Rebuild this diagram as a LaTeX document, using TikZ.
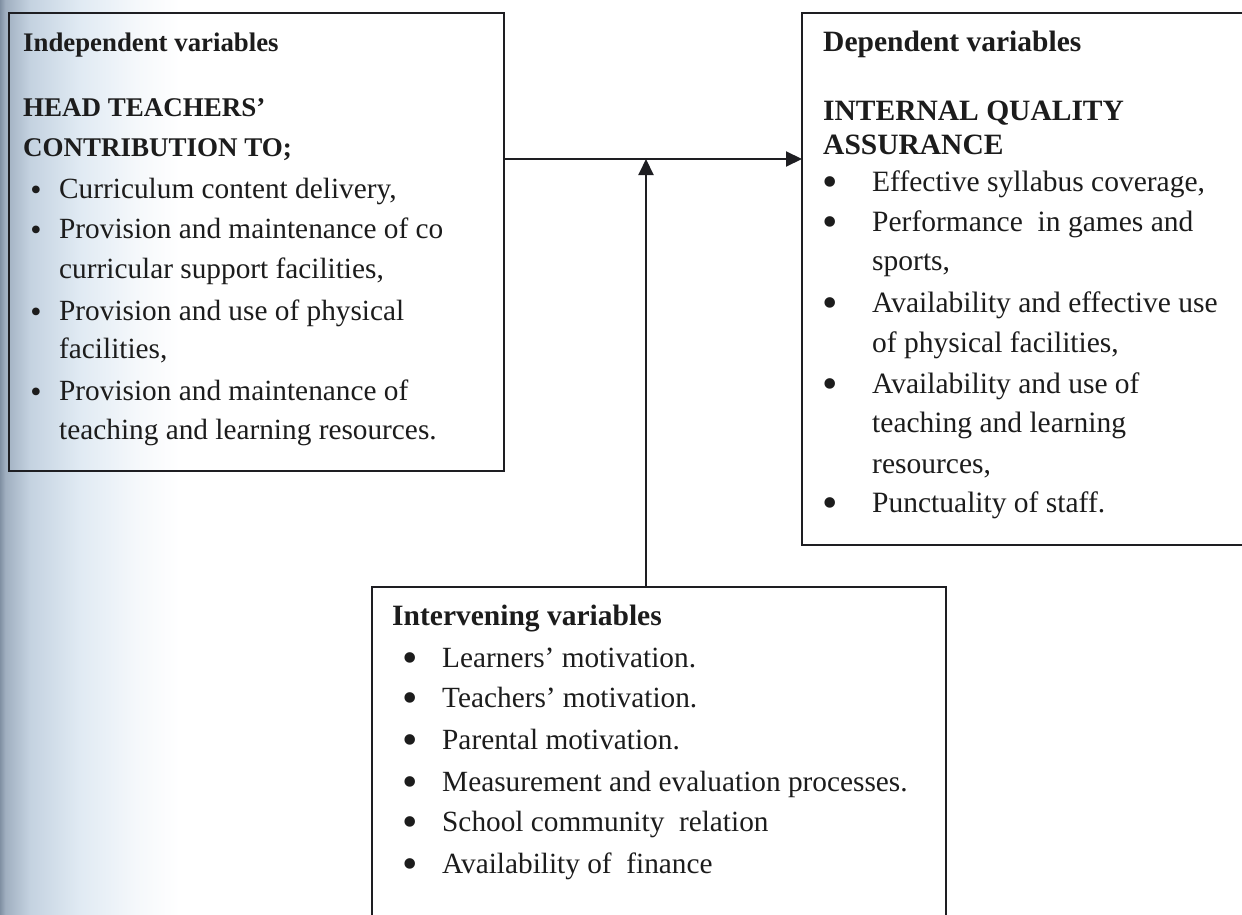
\documentclass[tikz,border=0pt]{standalone}
\usepackage{fontspec}
\setmainfont{Liberation Serif}
\usetikzlibrary{arrows.meta}

\definecolor{ink}{RGB}{28,28,28}
\definecolor{rule}{RGB}{30,30,34}
\definecolor{edgeA}{RGB}{128,144,163}
\definecolor{edgeB}{RGB}{160,175,192}
\definecolor{edgeC}{RGB}{196,210,224}
\definecolor{edgeD}{RGB}{224,234,243}
\definecolor{edgeE}{RGB}{245,248,251}

% soft blue-grey shadow along the left margin of the page
\pgfdeclarehorizontalshading{pageedge}{100bp}{%
  color(0bp)=(edgeA); color(25bp)=(edgeA); color(26.5bp)=(edgeB);
  color(33.3bp)=(edgeC); color(47bp)=(edgeD); color(63bp)=(edgeE);
  color(75bp)=(white); color(100bp)=(white)}

\newcommand{\bul}{\smash{•}}

\tikzset{
  box/.style={draw=rule, line width=2pt, inner sep=0pt, outer sep=0pt,
    rectangle},
  conn/.style={draw=rule, line width=2pt,
    -{Triangle[length=16pt,width=15pt]}},
  txt/.style={anchor=base west, inner sep=0pt, text=ink,
    font=\fontsize{29.3}{35}\selectfont},
  txtwide/.style={txt, font=\fontsize{29.5}{35}\selectfont},
  hdr/.style={txt, font=\fontsize{29.5}{35}\selectfont\bfseries},
  hdrsmall/.style={txt, font=\fontsize{26.8}{32}\selectfont\bfseries},
  hdrcaps/.style={txt, font=\fontsize{27}{32}\selectfont\bfseries},
  dotsmall/.style={anchor=base, inner sep=0pt, text=ink, yshift=-2pt,
    font=\fontsize{32}{36}\selectfont},
  dotmid/.style={anchor=base, inner sep=0pt, text=ink, yshift=-5.5pt,
    font=\fontsize{44}{48}\selectfont},
}

\begin{document}
\begin{tikzpicture}[x=1pt,y=-1pt]
\clip (0,0) rectangle (1242,915);
\fill[white] (0,0) rectangle (1242,915);
\shade[shading=pageedge] (0,0) rectangle (180,915);

% the three boxes
\node[box, minimum width=495pt, minimum height=458pt, anchor=north west]
  (indep) at (9,13) {};
\node[box, minimum width=442pt, minimum height=532pt, anchor=north west]
  (dep) at (802,13) {};
\node[box, minimum width=574pt, minimum height=353pt, anchor=north west]
  (interv) at (372,587) {};

% connectors
\coordinate (junction) at (646,159);
\draw[conn] (indep.east |- junction) -- (dep.west |- junction);
\draw[conn] (interv.north -| junction) -- (junction);

% independent variables
\node[hdrsmall] (ivtitle) at (23,52) {Independent variables};
\node[hdrcaps] (ivhead1) at (23,117) {HEAD TEACHERS’};
\node[hdrcaps] (ivhead2) at (23,157) {CONTRIBUTION TO;};
\foreach \yy [count=\k] in {198,238,320,400}
  \node[dotsmall] (ivdot\k) at (36,\yy) {\bul};
\node[txt] (ivl1) at (59,198) {Curriculum content delivery,};
\node[txt] (ivl2) at (59,238) {Provision and maintenance of co};
\node[txt] (ivl3) at (59,278) {curricular support facilities,};
\node[txt] (ivl4) at (59,320) {Provision and use of physical};
\node[txt] (ivl5) at (59,358) {facilities,};
\node[txt] (ivl6) at (59,400) {Provision and maintenance of};
\node[txt] (ivl7) at (59,439) {teaching and learning resources.};

% dependent variables
\node[hdr] (dvtitle) at (823,52) {Dependent variables};
\node[hdr] (dvhead1) at (823,121) {INTERNAL QUALITY};
\node[hdr] (dvhead2) at (823,154) {ASSURANCE};
\foreach \yy [count=\k] in {191,231,312,393,512}
  \node[dotmid] (dvdot\k) at (830,\yy) {\bul};
\node[txtwide] (dvl1) at (872,191) {Effective syllabus coverage,};
\node[txtwide] (dvl2) at (872,231) {Performance\ \ in games and};
\node[txtwide] (dvl3) at (872,270) {sports,};
\node[txtwide] (dvl4) at (872,312) {Availability and effective use};
\node[txtwide] (dvl5) at (872,352) {of physical facilities,};
\node[txtwide] (dvl6) at (872,393) {Availability and use of};
\node[txtwide] (dvl7) at (872,432) {teaching and learning};
\node[txtwide] (dvl8) at (872,473) {resources,};
\node[txtwide] (dvl9) at (872,512) {Punctuality of staff.};

% intervening variables
\node[hdr] (ntitle) at (392,625) {Intervening variables};
\foreach \yy [count=\k] in {667,707,749,791,831,873}
  \node[dotmid] (ndot\k) at (410,\yy) {\bul};
\node[txt] (nl1) at (442,667) {Learners’ motivation.};
\node[txt] (nl2) at (442,707) {Teachers’ motivation.};
\node[txt] (nl3) at (442,749) {Parental motivation.};
\node[txt] (nl4) at (442,791) {Measurement and evaluation processes.};
\node[txt] (nl5) at (442,831) {School community\ \ relation};
\node[txt] (nl6) at (442,873) {Availability of\ \ finance};
\end{tikzpicture}
\end{document}
